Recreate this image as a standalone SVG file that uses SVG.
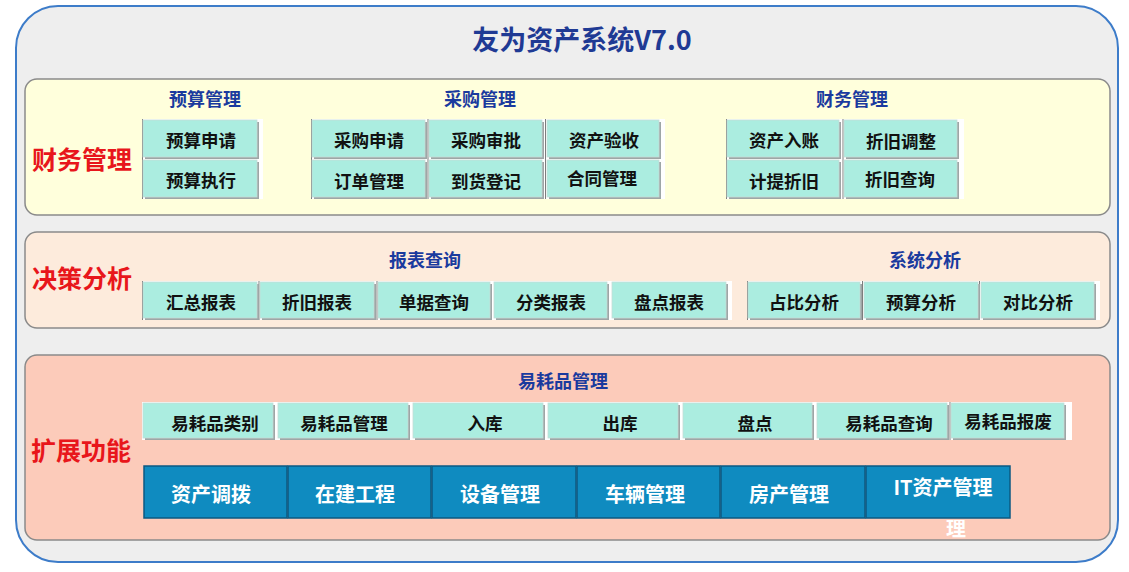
<svg xmlns="http://www.w3.org/2000/svg" width="1129" height="572" viewBox="0 0 1129 572">
<style>
.cjk{font-family:"Noto Sans CJK SC","Liberation Sans",sans-serif}
.title{font-size:27px;font-weight:700;fill:#1f3a94}
.sec{font-size:18px;font-weight:700;fill:#1a3a9e}
.lbl{font-size:25px;font-weight:700;fill:#e8161b}
.bt{font-size:17.5px;font-weight:600;fill:#111;dominant-baseline:central;text-anchor:middle}
.dt{font-size:20px;font-weight:600;fill:#fff;dominant-baseline:central;text-anchor:middle}
.box{fill:#abede0;stroke:#c6dcd6;stroke-width:0.8}
.shd{fill:#9ea6a6}
.dbox{fill:#0f8bc0;stroke:#0b5a82;stroke-width:1.5}
.panel{stroke:#8a8a8a;stroke-width:1.5}
.tbl{fill:#ffffff}
.edge{stroke:#7d7d7d;stroke-width:1}
</style>
<defs>
<clipPath id="clipStray"><rect x="930" y="520" width="60" height="20"/></clipPath>
</defs>
<rect x="0" y="0" width="1129" height="572" fill="#ffffff"/>
<rect x="16" y="6" width="1102" height="556" rx="42" ry="42" fill="#eeeeee" stroke="#3d7cc9" stroke-width="2"/>
<text class="cjk title" x="582" y="50" text-anchor="middle">友为资产系统V7.0</text>

<g id="panel-finance">
<rect class="panel" x="25" y="79" width="1085" height="136" rx="12" fill="#ffffdc"/>
<text class="cjk lbl" x="82" y="169" text-anchor="middle">财务管理</text>
<text class="cjk sec" x="205" y="106" text-anchor="middle">预算管理</text>
<text class="cjk sec" x="480" y="106" text-anchor="middle">采购管理</text>
<text class="cjk sec" x="852" y="106" text-anchor="middle">财务管理</text>
</g>
<g id="panel-decision">
<rect class="panel" x="25" y="232" width="1085" height="96" rx="12" fill="#fdebdc"/>
<text class="cjk lbl" x="82" y="288" text-anchor="middle">决策分析</text>
<text class="cjk sec" x="425" y="267" text-anchor="middle">报表查询</text>
<text class="cjk sec" x="925" y="267" text-anchor="middle">系统分析</text>
</g>
<g id="panel-ext">
<rect class="panel" x="25" y="355" width="1085" height="185" rx="12" fill="#fccbba"/>
<text class="cjk lbl" x="81" y="460" text-anchor="middle">扩展功能</text>
<text class="cjk sec" x="563" y="388" text-anchor="middle">易耗品管理</text>
</g>

<g id="tables">
<rect class="tbl" x="142" y="119" width="121" height="80"/>
<line class="edge" x1="142.5" y1="119" x2="142.5" y2="199"/>
<rect class="tbl" x="311" y="119" width="354" height="80"/>
<line class="edge" x1="311.5" y1="119" x2="311.5" y2="199"/>
<line class="edge" x1="428" y1="119" x2="428" y2="199"/>
<line class="edge" x1="545.5" y1="119" x2="545.5" y2="199"/>
<rect class="tbl" x="726" y="119" width="238" height="80"/>
<line class="edge" x1="726.5" y1="119" x2="726.5" y2="199"/>
<line class="edge" x1="843" y1="119" x2="843" y2="199"/>
<rect class="tbl" x="142" y="281" width="590" height="39"/>
<line class="edge" x1="142.5" y1="281" x2="142.5" y2="320"/>
<line class="edge" x1="259" y1="281" x2="259" y2="320"/>
<line class="edge" x1="377" y1="281" x2="377" y2="320"/>
<rect class="tbl" x="747" y="281" width="353" height="39"/>
<line class="edge" x1="747.5" y1="281" x2="747.5" y2="320"/>
<line class="edge" x1="862.5" y1="281" x2="862.5" y2="320"/>
<line class="edge" x1="979.5" y1="281" x2="979.5" y2="320"/>
<rect class="tbl" x="142" y="402" width="930" height="38"/>
<line class="edge" x1="950" y1="402" x2="950" y2="440"/>
</g>

<g id="n-ysqq"><rect class="shd" x="145" y="122" width="114" height="37"/><rect class="box" x="143" y="120" width="114" height="37"/><text class="cjk bt" x="201" y="139">预算申请</text></g>
<g id="n-yszx"><rect class="shd" x="145" y="162" width="114" height="37"/><rect class="box" x="143" y="160" width="114" height="37"/><text class="cjk bt" x="201" y="179">预算执行</text></g>
<g id="n-cgsq"><rect class="shd" x="314" y="122" width="113" height="37"/><rect class="box" x="312" y="120" width="113" height="37"/><text class="cjk bt" x="369" y="139">采购申请</text></g>
<g id="n-ddgl"><rect class="shd" x="314" y="162" width="113" height="37"/><rect class="box" x="312" y="160" width="113" height="37"/><text class="cjk bt" x="369" y="180">订单管理</text></g>
<g id="n-cgsp"><rect class="shd" x="431" y="122" width="113" height="37"/><rect class="box" x="429" y="120" width="113" height="37"/><text class="cjk bt" x="486" y="139">采购审批</text></g>
<g id="n-dhdj"><rect class="shd" x="431" y="162" width="113" height="37"/><rect class="box" x="429" y="160" width="113" height="37"/><text class="cjk bt" x="486" y="180">到货登记</text></g>
<g id="n-zcys"><rect class="shd" x="549" y="122" width="112" height="37"/><rect class="box" x="547" y="120" width="112" height="37"/><text class="cjk bt" x="604" y="139">资产验收</text></g>
<g id="n-htgl"><rect class="shd" x="549" y="162" width="112" height="37"/><rect class="box" x="547" y="160" width="112" height="37"/><text class="cjk bt" x="602" y="177">合同管理</text></g>
<g id="n-zcrz"><rect class="shd" x="729" y="122" width="112" height="37"/><rect class="box" x="727" y="120" width="112" height="37"/><text class="cjk bt" x="784" y="139">资产入账</text></g>
<g id="n-jtzj"><rect class="shd" x="729" y="162" width="112" height="37"/><rect class="box" x="727" y="160" width="112" height="37"/><text class="cjk bt" x="784" y="180">计提折旧</text></g>
<g id="n-zjtz"><rect class="shd" x="846" y="122" width="113" height="37"/><rect class="box" x="844" y="120" width="113" height="37"/><text class="cjk bt" x="901" y="140">折旧调整</text></g>
<g id="n-zjcx"><rect class="shd" x="846" y="162" width="113" height="37"/><rect class="box" x="844" y="160" width="113" height="37"/><text class="cjk bt" x="900" y="178">折旧查询</text></g>

<g id="n-hzbb"><rect class="shd" x="145" y="284" width="114" height="36"/><rect class="box" x="143" y="282" width="114" height="36"/><text class="cjk bt" x="201" y="301">汇总报表</text></g>
<g id="n-zjbb"><rect class="shd" x="262" y="284" width="114" height="36"/><rect class="box" x="260" y="282" width="114" height="36"/><text class="cjk bt" x="317" y="301">折旧报表</text></g>
<g id="n-djcx"><rect class="shd" x="380" y="284" width="112" height="36"/><rect class="box" x="378" y="282" width="112" height="36"/><text class="cjk bt" x="434" y="301">单据查询</text></g>
<g id="n-flbb"><rect class="shd" x="496" y="284" width="113" height="36"/><rect class="box" x="494" y="282" width="113" height="36"/><text class="cjk bt" x="551" y="301">分类报表</text></g>
<g id="n-pdbb"><rect class="shd" x="614" y="284" width="114" height="36"/><rect class="box" x="612" y="282" width="114" height="36"/><text class="cjk bt" x="669" y="301">盘点报表</text></g>
<g id="n-zbfx"><rect class="shd" x="750" y="284" width="112" height="36"/><rect class="box" x="748" y="282" width="112" height="36"/><text class="cjk bt" x="804" y="301">占比分析</text></g>
<g id="n-ysfx"><rect class="shd" x="866" y="284" width="114" height="36"/><rect class="box" x="864" y="282" width="114" height="36"/><text class="cjk bt" x="921" y="301">预算分析</text></g>
<g id="n-dbfx"><rect class="shd" x="983" y="284" width="113" height="36"/><rect class="box" x="981" y="282" width="113" height="36"/><text class="cjk bt" x="1038" y="301">对比分析</text></g>

<g id="n-yhplb"><rect class="shd" x="145" y="405" width="130" height="35"/><rect class="box" x="143" y="403" width="130" height="35"/><text class="cjk bt" x="215" y="422">易耗品类别</text></g>
<g id="n-yhpgl"><rect class="shd" x="280" y="405" width="130" height="35"/><rect class="box" x="278" y="403" width="130" height="35"/><text class="cjk bt" x="344" y="422">易耗品管理</text></g>
<g id="n-rk"><rect class="shd" x="415" y="405" width="130" height="35"/><rect class="box" x="413" y="403" width="130" height="35"/><text class="cjk bt" x="485" y="422">入库</text></g>
<g id="n-ck"><rect class="shd" x="550" y="405" width="130" height="35"/><rect class="box" x="548" y="403" width="130" height="35"/><text class="cjk bt" x="620" y="422">出库</text></g>
<g id="n-pd"><rect class="shd" x="685" y="405" width="129" height="35"/><rect class="box" x="683" y="403" width="129" height="35"/><text class="cjk bt" x="755" y="422">盘点</text></g>
<g id="n-yhpcx"><rect class="shd" x="819" y="405" width="130" height="35"/><rect class="box" x="817" y="403" width="130" height="35"/><text class="cjk bt" x="889" y="422">易耗品查询</text></g>
<g id="n-yhpbf"><rect class="shd" x="953" y="405" width="113" height="35"/><rect class="box" x="951" y="403" width="113" height="35"/><text class="cjk bt" x="1008" y="420">易耗品报废</text></g>

<g id="n-zcdb"><rect class="dbox" x="144" y="466" width="143" height="52"/><text class="cjk dt" x="211" y="493">资产调拨</text></g>
<g id="n-zjgc"><rect class="dbox" x="288" y="466" width="143" height="52"/><text class="cjk dt" x="355" y="493">在建工程</text></g>
<g id="n-sbgl"><rect class="dbox" x="432" y="466" width="144" height="52"/><text class="cjk dt" x="500" y="493">设备管理</text></g>
<g id="n-clgl"><rect class="dbox" x="577" y="466" width="143" height="52"/><text class="cjk dt" x="645" y="493">车辆管理</text></g>
<g id="n-fcgl"><rect class="dbox" x="721" y="466" width="144" height="52"/><text class="cjk dt" x="789" y="493">房产管理</text></g>
<g id="n-itgl"><rect class="dbox" x="866" y="466" width="144" height="52"/><text class="cjk dt" x="943" y="486">IT资产管理</text>
<text class="cjk dt" x="956" y="527" clip-path="url(#clipStray)">理</text></g>

<g id="connectors"></g>
</svg>
